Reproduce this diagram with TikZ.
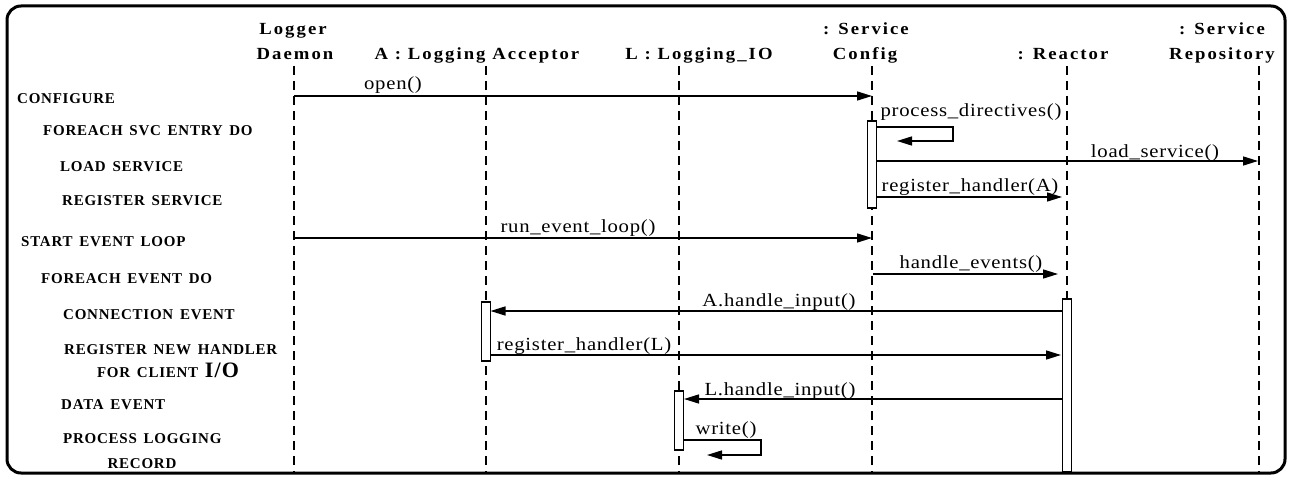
\documentclass[tikz,border=0pt]{standalone}
\usepackage{fontspec}
\setmainfont{Liberation Serif}
\newfontfamily\stepfont[LetterSpace=5,WordSpace=1.5]{Liberation Serif}
\newfontfamily\headfont[LetterSpace=12,FakeStretch=1.1]{Liberation Serif}
\newfontfamily\msgfont[LetterSpace=4,FakeStretch=1.12]{Liberation Serif}
\usetikzlibrary{arrows.meta}
\begin{document}
\begin{tikzpicture}[x=1pt,y=-1pt,
  headtext/.style={font=\headfont\fontsize{17}{19}\selectfont\bfseries, inner sep=0pt, anchor=base},
  msgtext/.style={font=\msgfont\fontsize{18.5}{20}\selectfont, inner sep=0pt, anchor=base},
  steptext/.style={font=\stepfont\fontsize{15}{17}\selectfont\bfseries, inner sep=0pt, anchor=base west},
  lifeline/.style={line width=1.5pt, dash pattern=on 9pt off 6pt},
  actbox/.style={draw, fill=white, line width=1.3pt, minimum width=9pt, inner sep=0pt},
  msg/.style={line width=1.5pt, -{Triangle[length=15pt,width=9pt]}},
  frame/.style={line width=3pt, rounded corners=14pt}]
\useasboundingbox (0,0) rectangle (1289,478);

% headers
\node[headtext] (hLD1) at (293,35) {Logger};
\node[headtext] (hLD2) at (295,60) {Daemon};
\node[headtext] (hAcc) at (477,60) {A : Logging Acceptor};
\node[headtext] (hLIO) at (699,60) {L : Logging\_IO};
\node[headtext] (hSC1) at (866,35) {: Service};
\node[headtext] (hSC2) at (865,60) {Config};
\node[headtext] (hRe) at (1063,60) {: Reactor};
\node[headtext] (hSR1) at (1222,35) {: Service};
\node[headtext] (hSR2) at (1222,60) {Repository};

% lifeline coordinates
\foreach \n/\x in {ld/294, acc/486, lio/679, sc/872, re/1067, sr/1259}{
  \coordinate (\n top) at (\x,66);
  \coordinate (\n bot) at (\x,473);
}
\foreach \n in {ld,acc,lio,sc,re,sr}{
  \draw[lifeline] (\n top) -- (\n bot);
}

% activation boxes
\node[actbox, minimum height=87pt] (scbox) at (872,164.5) {};
\node[actbox, minimum height=173pt] (rebox) at (1067,385.5) {};
\node[actbox, minimum height=59pt] (accbox) at (486,331.5) {};
\node[actbox, minimum height=59pt] (liobox) at (679,420.5) {};

% step labels
\node[steptext] (s1) at (17,104) {CONFIGURE};
\node[steptext] (s2) at (43,136) {FOREACH SVC ENTRY DO};
\node[steptext] (s3) at (60,172) {LOAD SERVICE};
\node[steptext] (s4) at (62,206) {REGISTER SERVICE};
\node[steptext] (s5) at (21,247) {START EVENT LOOP};
\node[steptext] (s6) at (41,283) {FOREACH EVENT DO};
\node[steptext] (s7) at (63,319) {CONNECTION EVENT};
\node[steptext] (s8) at (64,354) {REGISTER NEW HANDLER};
\node[steptext, anchor=base] (s9) at (168,377) {FOR CLIENT {\fontsize{22}{24}\selectfont I/O}};
\node[steptext] (s10) at (61,409) {DATA EVENT};
\node[steptext] (s11) at (63,443) {PROCESS LOGGING};
\node[steptext, anchor=base] (s12) at (142,468) {RECORD};

% message endpoints
\coordinate (m1a) at (294,96);   \coordinate (m1b) at (872,96);
\coordinate (m2a) at (876.5,127); \coordinate (m2c) at (953,141); \coordinate (m2b) at (897,141);
\coordinate (m3a) at (876.5,161); \coordinate (m3b) at (1258,161);
\coordinate (m4a) at (876.5,197); \coordinate (m4b) at (1062,197);
\coordinate (m5a) at (294,238);  \coordinate (m5b) at (872,238);
\coordinate (m6a) at (873,274);  \coordinate (m6b) at (1058,274);
\coordinate (m7a) at (1062.5,311); \coordinate (m7b) at (490.5,311);
\coordinate (m8a) at (490.5,355); \coordinate (m8b) at (1061,355);
\coordinate (m9a) at (1062.5,399); \coordinate (m9b) at (684,399);
\coordinate (m10a) at (683.5,440); \coordinate (m10c) at (761,455); \coordinate (m10b) at (707,455);

\draw[msg] (m1a) -- (m1b);
\draw[msg] (m2a) -| (m2c) -- (m2b);
\draw[msg] (m3a) -- (m3b);
\draw[msg] (m4a) -- (m4b);
\draw[msg] (m5a) -- (m5b);
\draw[msg] (m6a) -- (m6b);
\draw[msg] (m7a) -- (m7b);
\draw[msg] (m8a) -- (m8b);
\draw[msg] (m9a) -- (m9b);
\draw[msg] (m10a) -| (m10c) -- (m10b);

% message labels
\node[msgtext] (l1) at (393,90) {open()};
\node[msgtext] (l2) at (971,117) {process\_directives()};
\node[msgtext] (l3) at (1155,158) {load\_service()};
\node[msgtext] (l4) at (970,192) {register\_handler(A)};
\node[msgtext] (l5) at (578,233) {run\_event\_loop()};
\node[msgtext] (l6) at (971,268) {handle\_events()};
\node[msgtext] (l7) at (779,306) {A.handle\_input()};
\node[msgtext] (l8) at (584,350) {register\_handler(L)};
\node[msgtext] (l9) at (780,395) {L.handle\_input()};
\node[msgtext] (l10) at (726,434) {write()};

% frame
\draw[frame] (7,6) rectangle (1285,473);
\end{tikzpicture}
\end{document}
